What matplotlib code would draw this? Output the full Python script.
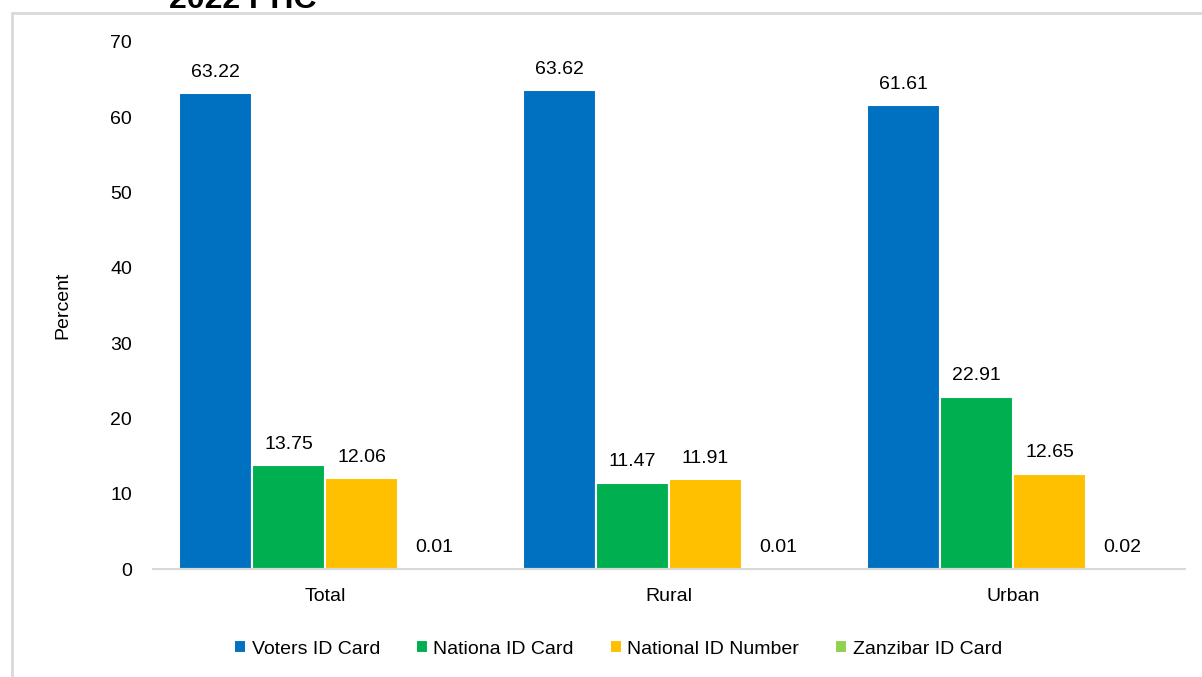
import matplotlib.pyplot as plt
from matplotlib.patches import Rectangle
import numpy as np

plt.rcParams['font.family'] = ['Liberation Sans', 'DejaVu Sans']

# Дані
areas = ["Total", "Rural", "Urban"]
series_names = ["Voters ID Card", "Nationa ID Card", "National ID Number", "Zanzibar ID Card"]
voters_id = [63.22, 63.62, 61.61]
nationa_id = [13.75, 11.47, 22.91]
national_id_number = [12.06, 11.91, 12.65]
zanzibar_id = [0.01, 0.01, 0.02]
colors = ["#0070C0", "#00B050", "#FFC000", "#92D050"]

all_series = [voters_id, nationa_id, national_id_number, zanzibar_id]
fs = 14

fig = plt.figure(figsize=(12.02, 6.77), dpi=100)
ax = fig.add_axes([153 / 1202, 1 - 569 / 677, (1185 - 153) / 1202, (569 - 42) / 677])

x = np.arange(len(areas))
width = 0.212
for i, (vals, name, col) in enumerate(zip(all_series, series_names, colors)):
    pos = x + (i - 1.5) * width
    bars = ax.bar(pos, vals, width, color=col, edgecolor="white", linewidth=1.5, label=name)
    for b, v in zip(bars, vals):
        ax.annotate(f"{v:.2f}", (b.get_x() + b.get_width() / 2, b.get_height()),
                    xytext=(0, 9), textcoords="offset points",
                    ha="center", va="bottom", fontsize=fs)

ax.set_xlim(-0.5, 2.5)
ax.set_ylim(0, 70)
ax.set_yticks(range(0, 71, 10))
ax.set_xticks(x)
ax.set_xticklabels(areas)
ax.tick_params(axis="both", length=0, labelsize=fs)
ax.tick_params(axis="y", pad=15)
ax.tick_params(axis="x", pad=14)
for s in ["top", "right", "left"]:
    ax.spines[s].set_visible(False)
ax.spines["bottom"].set_color("#d9d9d9")
ax.spines["bottom"].set_linewidth(1.5)
ax.set_ylabel("Percent", fontsize=fs, labelpad=28)

fig.legend(loc="center", bbox_to_anchor=(618 / 1202, 1 - 649 / 677), ncol=4,
           frameon=False, fontsize=fs, handlelength=0.6, handleheight=0.6,
           handletextpad=0.3, columnspacing=1.85)

# Рамка навколо графіку
fig.patches.append(Rectangle((12 / 1202, -0.05), 1.1, 1.05 - 13 / 677,
                             transform=fig.transFigure, fill=False,
                             edgecolor="#d9d9d9", linewidth=2))

# Обрізаний заголовок
fig.text(243 / 1202, 1 - 8 / 677, "2022 PHC", fontsize=23, fontweight="bold",
         ha="center", va="baseline")

plt.savefig("out.png", dpi=100)
plt.close()
